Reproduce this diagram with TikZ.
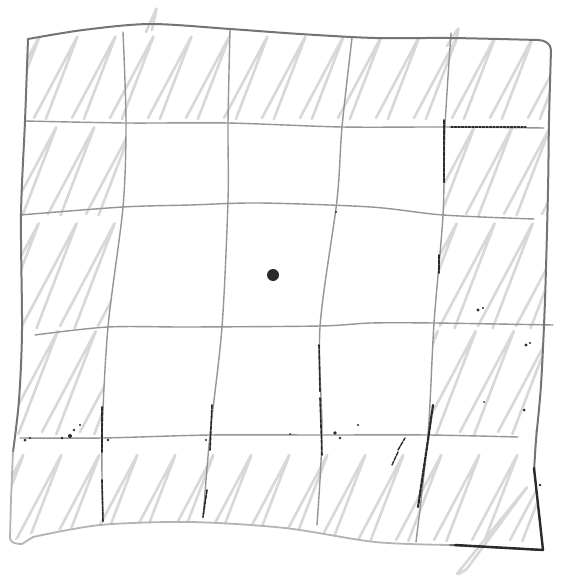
\documentclass[tikz,border=0pt]{standalone}
\usetikzlibrary{calc}
\definecolor{pencil}{HTML}{959595}
\definecolor{pencildark}{HTML}{747474}
\definecolor{pencillight}{HTML}{B4B4B4}
\definecolor{hatchc}{HTML}{D8D8D8}
\definecolor{speck}{HTML}{2A2A2A}
\tikzset{
  gridline/.style={draw=pencil, line width=1.4pt, line cap=round, line join=round},
  borderline/.style={draw=pencildark, line width=2pt, line cap=round, line join=round},
  borderlight/.style={draw=pencillight, line width=1.8pt, line cap=round, line join=round},
  hatchline/.style={draw=hatchc, line width=2.6pt, line cap=round, line join=round, rounded corners=3pt},
  speckline/.style={draw=speck, line width=1.6pt, line cap=round, dash pattern=on 4pt off 1.3pt},
  dotnode/.style={circle, fill=speck, minimum size=12pt, inner sep=0pt},
}
\begin{document}
\begin{tikzpicture}[x=1pt,y=-1pt]
\useasboundingbox (0,0) rectangle (561,580);
\fill[white] (0,0) rectangle (561,580);

% ---------- hatching of the outer ring ----------
\begin{scope}[even odd rule]
  \clip
    (28,39) -- (83,30) -- (150,24) -- (230,29) -- (300,34) -- (375,38) -- (451,38) -- (551,42)
    -- (548,190) -- (541,385) -- (534,472) -- (543,550)
    -- (450,545) -- (375,542) -- (285,528) -- (190,522) -- (100,525) -- (33,533) -- (10,542)
    -- (13,460) -- (19,400) -- (22,330) -- (21,215) -- (25,121) -- cycle
    (126,123) -- (228,123) -- (342,127) -- (445,127) -- (443,215) -- (434,323) -- (428,435)
    -- (322,435) -- (210,435) -- (102,438) -- (108,327) -- (123,207) -- cycle;
  \foreach \ys/\off/\len in {118/0/94, 214/14/100, 326/26/118, 432/8/116, 540/20/98}{
    \foreach \xs in {-80,-42,...,580}{
      \draw[hatchline] (\xs+\off,\ys) -- ++(-62:\len) -- ++(111:\len-4);
    }
  }
\end{scope}
% strokes that run past the frame
\draw[hatchline] (146,32) -- (157,7) -- (152,30);
\draw[hatchline] (447,46) -- (459,27) -- (455,44);
\draw[hatchline] (456,575) -- (528,486) -- (466,570) -- cycle;

% ---------- grid lines ----------
\draw[gridline] plot[smooth, tension=0.5] coordinates {(25,121) (126,123) (228,123) (342,127) (445,127) (544,128)};
\draw[gridline] plot[smooth, tension=0.5] coordinates {(20,215) (123,207) (190,205) (260,203) (371,207) (443,215) (534,219)};
\draw[gridline] plot[smooth, tension=0.5] coordinates {(35,335) (108,327) (190,327) (320,326) (371,323) (434,323) (553,325)};
\draw[gridline] plot[smooth, tension=0.5] coordinates {(20,438) (102,438) (210,435) (322,435) (428,435) (518,437)};
\draw[gridline] plot[smooth, tension=0.5] coordinates {(123,32) (126,123) (123,207) (108,327) (102,438) (103,522)};
\draw[gridline] plot[smooth, tension=0.5] coordinates {(230,29) (228,123) (228,200) (222,327) (210,435) (203,518)};
\draw[gridline] plot[smooth, tension=0.5] coordinates {(352,38) (342,127) (337,200) (320,327) (322,435) (317,525)};
\draw[gridline] plot[smooth, tension=0.5] coordinates {(451,33) (445,127) (443,215) (434,323) (428,435) (416,542)};

% ---------- outer frame ----------
\draw[borderline] plot[smooth, tension=0.5] coordinates {(28,39) (83,30) (150,24) (230,29) (300,34) (375,38) (451,38) (538,40)} to[out=0,in=90] (551,50);
\draw[borderline] plot[smooth, tension=0.5] coordinates {(551,50) (549,120) (548,190) (545,300) (541,385) (536,440) (534,472)};
\draw[borderline] plot[smooth, tension=0.5] coordinates {(13,452) (19,400) (22,330) (21,215) (25,121) (28,39)};
\draw[borderlight] plot[smooth, tension=0.5] coordinates {(13,452) (11,500) (10,538)} to[out=-90,in=180] (22,544) -- (33,537);
\draw[borderlight] plot[smooth, tension=0.5] coordinates {(33,537) (100,525) (190,522) (285,528) (375,542) (450,545)};
\draw[borderline] (450,545) -- (543,550);

% ---------- dark pencil marks ----------
\draw[speckline] (102,407) -- (102,452);
\draw[speckline] (102,480) -- (103,522);
\draw[speckline] (212,405) -- (210,450);
\draw[speckline] (207,490) -- (203,517);
\draw[speckline] (319,345) -- (320,392);
\draw[speckline] (320,398) -- (322,455);
\draw[speckline, line width=2.2pt] (433,405) -- (428,440) -- (418,507);
\draw[speckline] (444,120) -- (444,183);
\draw[speckline, dash pattern=on 2pt off 1.5pt, line width=1.2pt] (451,127) -- (526,127);
\draw[speckline] (439,255) -- (439,273);
\draw[speck, line width=2.4pt, line cap=round, line join=round] (534,468) -- (543,550) -- (455,545);
\draw[speckline, line width=1.4pt] (398,450) -- (405,438);
\draw[speckline, line width=1.4pt] (392,465) -- (398,452);
\fill[speck] (25,440) circle (1.5) (30,438) circle (1.2) (62,438) circle (1.4) (70,436) circle (2)
  (74,430) circle (1.3) (80,425) circle (1.2) (108,440) circle (1.4) (206,440) circle (1.2)
  (290,434) circle (1) (335,433) circle (1.8) (340,438) circle (1.4) (478,310) circle (1.6)
  (483,308) circle (1.2) (526,345) circle (1.6) (530,343) circle (1.2) (524,410) circle (1.5)
  (484,402) circle (1) (336,212) circle (1.2) (358,425) circle (1.2) (540,485) circle (1.3);

% ---------- centre dot ----------
\node[dotnode] (dot) at (273,275) {};
\end{tikzpicture}
\end{document}
